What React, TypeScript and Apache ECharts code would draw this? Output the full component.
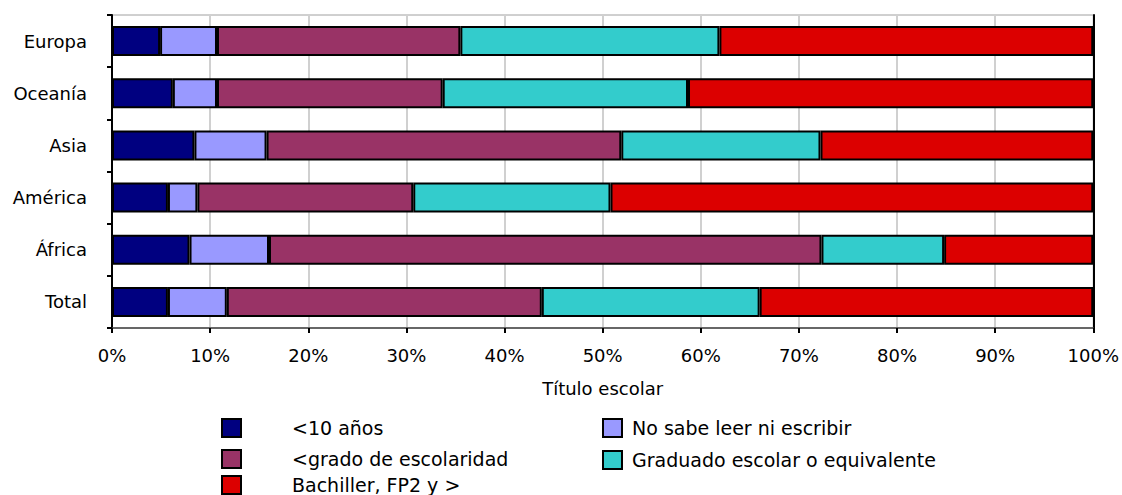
import React, { useEffect, useRef } from "react";
import * as echarts from "echarts";

const categories = ["Europa", "Oceanía", "Asia", "América", "África", "Total"];
const seriesNames = [
  "<10 años",
  "No sabe leer ni escribir",
  "<grado de escolaridad",
  "Graduado escolar o equivalente",
  "Bachiller, FP2 y >",
];
const seriesColors = ["#000080", "#9999FF", "#993366", "#33CCCC", "#DC0000"];
const menos10 = [4.9, 6.2, 8.4, 5.7, 7.9, 5.7];
const noSabe = [5.8, 4.5, 7.35, 3.0, 8.1, 6.0];
const menosGrado = [24.8, 23.0, 36.15, 22.0, 56.3, 32.1];
const graduado = [26.4, 25.0, 20.3, 20.1, 12.5, 22.2];
const bachiller = [38.1, 41.3, 27.8, 49.2, 15.2, 34.0];
const seriesValues = [menos10, noSabe, menosGrado, graduado, bachiller];
const xTicks = [0, 10, 20, 30, 40, 50, 60, 70, 80, 90, 100];
const xAxisName = "Título escolar";

const FONT = "DejaVu Sans";

export default function App() {
  const ref = useRef<HTMLDivElement>(null);
  useEffect(() => {
    if (!ref.current) return;
    const chart = echarts.init(ref.current, undefined, { renderer: "svg" });
    const legendPos = [
      { left: 221, top: 418, pad: 46 },
      { left: 602, top: 418, pad: 5 },
      { left: 221, top: 449, pad: 46 },
      { left: 602, top: 450, pad: 5 },
      { left: 221, top: 475, pad: 46 },
    ];
    chart.setOption({
      animation: false,
      backgroundColor: "#ffffff",
      textStyle: { fontFamily: FONT },
      grid: {
        left: 112,
        right: 28,
        top: 15,
        bottom: 167,
        show: true,
        borderColor: "#a0a0a0",
        borderWidth: 1,
        containLabel: false,
      },
      legend: seriesNames.map((n, i) => ({
        data: [n],
        left: legendPos[i].left,
        top: legendPos[i].top,
        orient: "horizontal",
        icon: "rect",
        itemWidth: 19,
        itemHeight: 18,
        padding: 0,
        selectedMode: false,
        itemStyle: { borderColor: "#000", borderWidth: 2 },
        textStyle: {
          fontFamily: FONT,
          fontSize: 19,
          color: "#000",
          lineHeight: 18,
          padding: [0, 0, 0, legendPos[i].pad],
        },
      })),
      xAxis: {
        type: "value",
        min: xTicks[0],
        max: xTicks[xTicks.length - 1],
        interval: xTicks[1] - xTicks[0],
        name: xAxisName,
        nameLocation: "middle",
        nameGap: 51,
        nameTextStyle: { fontFamily: FONT, fontSize: 18, color: "#000" },
        axisLine: { show: true, lineStyle: { color: "#444", width: 1.5 } },
        axisTick: { show: true, length: 5, lineStyle: { color: "#000", width: 2 } },
        axisLabel: {
          formatter: "{value}%",
          fontFamily: FONT,
          fontSize: 18,
          color: "#000",
          margin: 18,
        },
        splitLine: { show: true, lineStyle: { color: "#d0d0d0", width: 2 } },
      },
      yAxis: [
        {
          type: "category",
          data: categories,
          inverse: true,
          axisLine: { show: true, lineStyle: { color: "#000", width: 2 } },
          axisTick: { show: true, length: 5, lineStyle: { color: "#000", width: 2 } },
          axisLabel: {
            fontFamily: FONT,
            fontSize: 18,
            color: "#000",
            margin: 25,
          },
          splitLine: { show: false },
        },
        {
          type: "category",
          data: categories,
          inverse: true,
          position: "right",
          axisLine: { show: true, lineStyle: { color: "#000", width: 2 } },
          axisTick: { show: false },
          axisLabel: { show: false },
          splitLine: { show: false },
        },
      ],
      series: seriesNames.map((n, i) => ({
        name: n,
        type: "bar",
        stack: "total",
        yAxisIndex: 0,
        barWidth: 30,
        data: seriesValues[i],
        itemStyle: {
          color: seriesColors[i],
          borderColor: "#000",
          borderWidth: 2,
        },
        emphasis: { disabled: true },
      })),
    });
    return () => chart.dispose();
  }, []);
  return (
    <div
      ref={ref}
      style={{ position: "fixed", left: 0, top: 0, width: 1122, height: 495 }}
    />
  );
}
